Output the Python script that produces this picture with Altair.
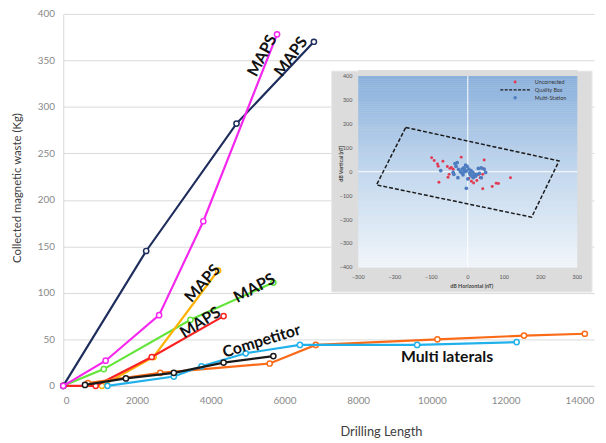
import altair as alt
import pandas as pd

# ---------------- main chart data ----------------
navy_x = [0, 2250, 4700, 6800]
navy_y = [0, 145, 282, 370]
pink_x = [0, 1150, 2600, 3800, 5800]
pink_y = [0, 27, 76, 177, 378]
yellow_x = [1050, 2450, 4200]
yellow_y = [0, 31, 124]
green_x = [0, 1100, 3450, 5700]
green_y = [0, 18, 71, 111]
red_x = [0, 880, 2400, 4350]
red_y = [0, 0, 31, 75]
blue_x = [1200, 3000, 3750, 4950, 6420, 9600, 12300]
blue_y = [0, 10, 21, 35, 44, 44, 47]
orange_x = [670, 2630, 5600, 6850, 10150, 12500, 14150]
orange_y = [3, 14, 24, 44, 50, 54, 56]
black_x = [590, 1700, 3000, 4350, 5700]
black_y = [1, 8, 14, 25, 32]

x_ticks = [0, 2000, 4000, 6000, 8000, 10000, 12000, 14000]
y_ticks = [0, 50, 100, 150, 200, 250, 300, 350, 400]

# annotations: text, x, y, angle
ann_text = ["MAPS", "MAPS", "MAPS", "MAPS", "MAPS", "Competitor", "Multi laterals"]
ann_x = [5400, 6180, 3780, 5190, 3720, 5380, 10410]
ann_y = [355, 354, 110, 105, 68, 48, 31]
ann_angle = [298, 306, 312, 332, 328, 343, 0]

# ---------------- inset data ----------------
unc_x = [-99, -92, -83, -81, -68, -56, -49, -40, -51, -54, -79, -18, 45, 41, 41, 34, 25, 16, 41, 67, 78, 84, 117, 3, 30, -45, 10]
unc_y = [58, 47, 32, 23, 44, 22, 14, 10, -11, -23, -44, 61, 49, 14, -11, -25, -37, -47, -71, -62, -48, -49, -25, -28, -12, 18, -40]
ms_x = [-35, -29, -32, -40, -38, -27, -74, -15, -11, -6, -2, -9, -15, -13, -4, 3, 9, 14, 18, 7, 12, 21, 25, 32, 29, 37, 45, 49, 37, 0, -4, -20, -25, -8, 5, 15]
ms_y = [34, 38, 22, -3, -11, -25, 5, 11, 16, 28, 22, 0, -6, -13, 3, 11, 5, -3, -11, -13, -19, -19, -11, -7, 14, 16, 11, -3, -25, -30, -69, 0, 10, 8, -5, -25]
box_x = [-170, 250, 175, -250, -170]
box_y = [185, 45, -190, -55, 185]
inset_x_ticks = [-300, -200, -100, 0, 100, 200, 300]
inset_y_ticks = [-400, -300, -200, -100, 0, 100, 200, 300, 400]

FONT = "Lato"

# ---------------- main layers ----------------
xsc = alt.Scale(domain=[0, 14400], nice=False)
ysc = alt.Scale(domain=[0, 400], nice=False)

series = [
    ("green", green_x, green_y, "#62e43a"),
    ("yellow", yellow_x, yellow_y, "#ffb100"),
    ("red", red_x, red_y, "#fa2323"),
    ("navy", navy_x, navy_y, "#1e2d5c"),
    ("pink", pink_x, pink_y, "#f527ef"),
    ("orange", orange_x, orange_y, "#fb6b17"),
    ("blue", blue_x, blue_y, "#21b1ea"),
    ("black", black_x, black_y, "#1a1a1a"),
]

main_layers = []
first = True
for name, xs, ys, col in series:
    df = pd.DataFrame({"x": xs, "y": ys})
    if first:
        xenc = alt.X("x:Q", scale=xsc, title="Drilling Length",
                     axis=alt.Axis(values=x_ticks, format="d", grid=False, ticks=False, domain=True,
                                   domainColor="#d9d9d9", labelPadding=10, titleX=322, titleY=40,
                                   titleFontWeight="normal", titleFontSize=13, titleColor="#404040"))
        yenc = alt.Y("y:Q", scale=ysc, title="Collected magnetic waste (Kg)",
                     axis=alt.Axis(values=y_ticks, grid=True, gridColor="#d9d9d9", ticks=False,
                                   domain=True, domainColor="#d9d9d9", labelPadding=9,
                                   titleX=-41, titleY=176, titleFontWeight="normal",
                                   titleFontSize=11.5, titleColor="#404040"))
        first = False
    else:
        xenc = alt.X("x:Q", scale=xsc)
        yenc = alt.Y("y:Q", scale=ysc)
    base = alt.Chart(df).encode(x=xenc, y=yenc)
    main_layers.append(base.mark_line(color=col, strokeWidth=2.2))
    main_layers.append(base.mark_point(shape="circle", filled=False, fill="white", fillOpacity=1,
                                       color=col, size=28, strokeWidth=1.5, opacity=1))

for t, ax, ay, ang in zip(ann_text, ann_x, ann_y, ann_angle):
    adf = pd.DataFrame({"t": [t], "x": [ax], "y": [ay]})
    main_layers.append(
        alt.Chart(adf).mark_text(font=FONT, fontSize=16, fontWeight="bold", color="#111111",
                                 angle=ang, align="center", baseline="middle")
        .encode(x=alt.X("x:Q", scale=xsc), y=alt.Y("y:Q", scale=ysc), text="t:N")
    )

main = alt.layer(*main_layers)

# ---------------- inset layers ----------------
ixs = alt.Scale(domain=[-300, 300], range=[299, 521], nice=False)
iys = alt.Scale(domain=[-400, 400], range=[257, 63], nice=False)
one = alt.Data(values=[{"a": 1}])

frame = alt.Chart(pd.DataFrame({"k": ["frame"]})).mark_bar(
    color="#dcdcdc", stroke="#ebebeb", strokeWidth=1, opacity=1).encode(
    x=alt.value(272), x2=alt.value(536), y=alt.value(58), y2=alt.value(282))

# smooth vertical gradient of the inset plot area, as many thin bands
bands = alt.Chart(alt.sequence(-400, 400, 8, as_="lo")).transform_calculate(
    hi="datum.lo + 9"
).transform_filter("datum.lo < 400").mark_bar(opacity=1).encode(
    x=alt.value(299), x2=alt.value(521),
    y=alt.Y("lo:Q", scale=iys, axis=None), y2="hi:Q",
    color=alt.Color("lo:Q", legend=None,
                    scale=alt.Scale(domain=[-400, 0, 400],
                                    range=["#f1f6fb", "#c2d7ee", "#89b0dc"]))
)
band_cap = alt.Chart(one).mark_bar(color="#dcdcdc", opacity=1).encode(
    x=alt.value(299), x2=alt.value(521), y=alt.value(57), y2=alt.value(63))

vgrid = alt.Chart(one).mark_rule(color="white", strokeWidth=1).encode(
    x=alt.X("gx:Q", scale=ixs, axis=None), y=alt.Y("gy0:Q", scale=iys, axis=None), y2="gy1:Q"
).transform_calculate(gx="0", gy0="-400", gy1="400")
hgrid = alt.Chart(one).mark_rule(color="white", strokeWidth=1).encode(
    y=alt.Y("gy:Q", scale=iys, axis=None), x=alt.X("gx0:Q", scale=ixs, axis=None), x2="gx1:Q"
).transform_calculate(gy="0", gx0="-300", gx1="300")

box_df = pd.DataFrame({"x": box_x, "y": box_y, "o": list(range(len(box_x)))})
box = alt.Chart(box_df).mark_line(color="#1a1a1a", strokeWidth=1.5, strokeDash=[4, 2]).encode(
    x=alt.X("x:Q", scale=ixs, axis=None), y=alt.Y("y:Q", scale=iys, axis=None), order="o:Q")

unc = alt.Chart(pd.DataFrame({"x": unc_x, "y": unc_y})).mark_circle(color="#e23a52", size=9, opacity=1).encode(
    x=alt.X("x:Q", scale=ixs, axis=None), y=alt.Y("y:Q", scale=iys, axis=None))
ms = alt.Chart(pd.DataFrame({"x": ms_x, "y": ms_y})).mark_circle(color="#4d7dc0", size=14, opacity=1).encode(
    x=alt.X("x:Q", scale=ixs, axis=None), y=alt.Y("y:Q", scale=iys, axis=None))

xlab = alt.Chart(pd.DataFrame({"v": inset_x_ticks})).mark_text(
    font=FONT, fontSize=5.5, color="#555555", baseline="middle", align="center").encode(
    x=alt.X("v:Q", scale=ixs, axis=None), y=alt.value(267), text="v:Q")
ylab = alt.Chart(pd.DataFrame({"v": inset_y_ticks})).mark_text(
    font=FONT, fontSize=5.5, color="#555555", baseline="middle", align="right").encode(
    y=alt.Y("v:Q", scale=iys, axis=None), x=alt.value(293), text="v:Q")
xtitle = alt.Chart(one).mark_text(font=FONT, fontSize=5.5, fontWeight="bold", color="#444444",
                                  text="dB Horizontal (nT)", baseline="middle").encode(
    x=alt.value(414), y=alt.value(276))
ytitle = alt.Chart(one).mark_text(font=FONT, fontSize=5.5, fontWeight="bold", color="#444444",
                                  text="dB Vertical (nT)", angle=270, baseline="middle").encode(
    x=alt.value(282), y=alt.value(152))

leg_red = alt.Chart(one).mark_circle(color="#e23a52", size=9, opacity=1).encode(
    x=alt.value(458), y=alt.value(69))
leg_line = alt.Chart(one).mark_rule(color="#1a1a1a", strokeWidth=1.3, strokeDash=[3, 1.5]).encode(
    x=alt.value(443), x2=alt.value(474), y=alt.value(77))
leg_blue = alt.Chart(one).mark_circle(color="#4d7dc0", size=12, opacity=1).encode(
    x=alt.value(458), y=alt.value(85))
leg_texts = []
for t, yy in [("Uncorrected", 69), ("Quality Box", 77), ("Multi-Station", 85)]:
    leg_texts.append(alt.Chart(one).mark_text(font=FONT, fontSize=5.5, color="#333333", text=t,
                                              align="left", baseline="middle").encode(
        x=alt.value(478), y=alt.value(yy)))

inset = alt.layer(frame, bands, band_cap, vgrid, hgrid, box, unc, ms, xlab, ylab, xtitle, ytitle,
                  leg_red, leg_line, leg_blue, *leg_texts)

chart = alt.layer(main, inset).resolve_scale(x="independent", y="independent").properties(
    width=538, height=377,
    padding={"left": 56, "top": 3, "right": 4, "bottom": 55},
    autosize=alt.AutoSizeParams(type="none"),
).configure_view(stroke=None).configure_axis(
    labelFont=FONT, labelFontSize=10, labelColor="#888888", titleFont=FONT
)

chart.save("out.html", embed_options={"renderer": "svg", "actions": False})
